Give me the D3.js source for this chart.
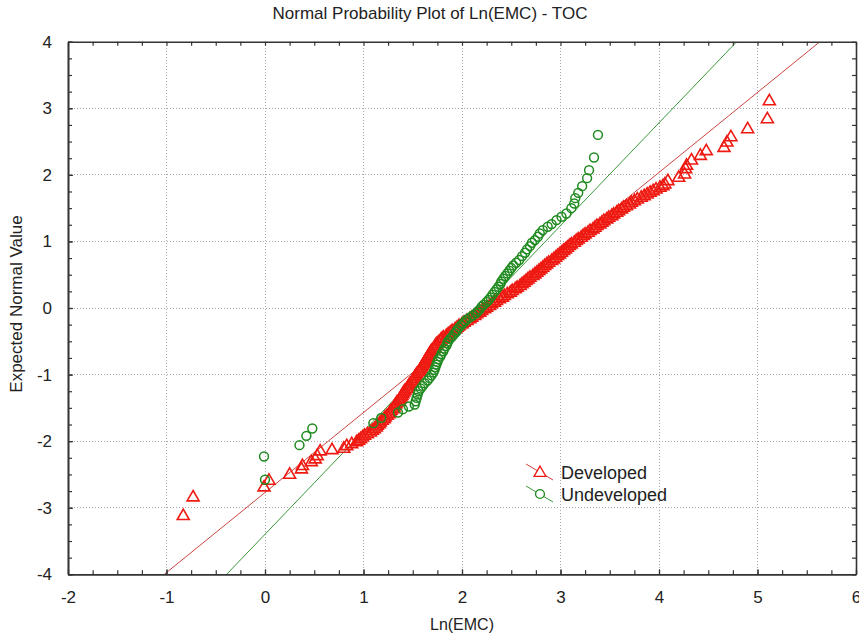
<!DOCTYPE html>
<html>
<head>
<meta charset="utf-8">
<script src="https://cdnjs.cloudflare.com/ajax/libs/d3/7.8.5/d3.min.js"></script>
<style>
  html, body { margin: 0; padding: 0; background: #fff; }
  svg { display: block; font-family: "Liberation Sans", Arial, sans-serif; }
</style>
</head>
<body>
<svg id="chart" width="859" height="639"></svg>
<script>
// Sorted Ln(EMC) values paired with their expected normal scores: [Ln(EMC), expected normal]
const developed = [
  [-0.83,-3.11],[-0.73,-2.83],[-0.01,-2.68],[0.04,-2.58],[0.25,-2.49],[0.37,-2.41],[0.38,-2.36],
  [0.47,-2.30],[0.51,-2.26],[0.53,-2.21],[0.56,-2.14],[0.68,-2.12],[0.80,-2.10],[0.83,-2.06],
  [0.88,-2.03],[0.93,-2.00],
  [0.95,-1.98],[0.97,-1.955],[0.99,-1.93],[1.01,-1.905],[1.04,-1.88],[1.07,-1.855],[1.09,-1.83],
  [1.11,-1.805],[1.13,-1.78],[1.14,-1.755],[1.16,-1.73],[1.17,-1.705],[1.19,-1.68],[1.21,-1.655],
  [1.22,-1.63],[1.24,-1.605],[1.26,-1.58],[1.27,-1.555],[1.28,-1.53],[1.30,-1.505],[1.31,-1.48],
  [1.32,-1.455],[1.33,-1.43],[1.34,-1.405],[1.36,-1.38],[1.37,-1.355],[1.38,-1.33],[1.39,-1.305],
  [1.40,-1.28],[1.41,-1.255],[1.42,-1.23],[1.44,-1.205],[1.45,-1.18],[1.46,-1.155],[1.47,-1.13],
  [1.49,-1.105],[1.50,-1.08],[1.51,-1.055],[1.52,-1.03],[1.53,-1.005],[1.54,-0.98],[1.56,-0.955],
  [1.57,-0.93],[1.58,-0.905],[1.59,-0.88],[1.60,-0.855],[1.61,-0.83],[1.62,-0.805],[1.63,-0.78],
  [1.64,-0.755],[1.65,-0.73],[1.66,-0.705],[1.67,-0.68],[1.68,-0.655],[1.69,-0.63],[1.71,-0.605],
  [1.72,-0.58],[1.73,-0.555],[1.74,-0.53],[1.76,-0.505],[1.78,-0.48],[1.79,-0.455],[1.81,-0.43],
  [1.84,-0.405],[1.86,-0.38],[1.88,-0.355],[1.90,-0.33],[1.93,-0.305],[1.95,-0.28],[1.97,-0.255],
  [2.00,-0.23],[2.02,-0.205],[2.05,-0.18],[2.08,-0.155],[2.10,-0.13],[2.13,-0.105],[2.15,-0.08],
  [2.18,-0.055],[2.20,-0.03],[2.23,-0.005],[2.25,0.02],[2.28,0.045],[2.30,0.07],[2.33,0.095],
  [2.35,0.12],[2.38,0.145],[2.41,0.17],[2.43,0.195],[2.46,0.22],[2.49,0.245],[2.51,0.27],
  [2.54,0.295],[2.56,0.32],[2.59,0.345],[2.61,0.37],[2.63,0.395],[2.65,0.42],[2.67,0.445],
  [2.69,0.47],[2.72,0.495],[2.74,0.52],[2.76,0.545],[2.78,0.57],[2.80,0.595],[2.82,0.62],
  [2.84,0.645],[2.86,0.67],[2.88,0.695],[2.91,0.72],[2.93,0.745],[2.95,0.77],[2.97,0.795],
  [2.99,0.82],[3.01,0.845],[3.03,0.87],[3.05,0.895],[3.07,0.92],[3.09,0.945],[3.11,0.97],
  [3.14,0.995],[3.16,1.02],[3.18,1.045],[3.21,1.07],[3.23,1.095],[3.25,1.12],[3.28,1.145],
  [3.30,1.17],[3.33,1.195],[3.35,1.22],[3.37,1.245],[3.40,1.27],[3.42,1.295],[3.44,1.32],
  [3.47,1.345],[3.49,1.37],[3.52,1.395],[3.54,1.42],[3.57,1.445],[3.59,1.47],[3.62,1.495],
  [3.64,1.52],[3.67,1.545],[3.70,1.57],[3.72,1.595],[3.75,1.62],[3.78,1.645],[3.82,1.67],
  [3.85,1.695],[3.88,1.72],[3.91,1.745],[3.94,1.77],[3.97,1.795],[4.01,1.82],[4.04,1.845],
  [4.06,1.87],[4.09,1.92],[4.20,1.97],[4.26,2.02],[4.27,2.10],[4.28,2.15],[4.33,2.23],
  [4.42,2.30],[4.48,2.37],[4.66,2.42],[4.69,2.50],[4.73,2.58],[4.90,2.70],[5.10,2.85],[5.12,3.12]
];

const undeveloped = [
  [0.00,-2.58],[-0.01,-2.23],[0.35,-2.06],[0.42,-1.92],[0.48,-1.81],[1.10,-1.73],[1.18,-1.65],
  [1.35,-1.57],[1.40,-1.52],[1.46,-1.48],[1.52,-1.45],[1.53,-1.40],[1.54,-1.35],[1.55,-1.30],
  [1.56,-1.25],[1.58,-1.21],[1.60,-1.17],[1.62,-1.13],[1.65,-1.09],[1.67,-1.05],[1.69,-1.01],
  [1.71,-0.97],[1.72,-0.93],[1.73,-0.89],[1.74,-0.85],[1.75,-0.81],[1.76,-0.77],[1.78,-0.73],
  [1.79,-0.69],[1.81,-0.65],[1.82,-0.61],[1.84,-0.57],[1.85,-0.53],[1.86,-0.50],[1.88,-0.46],
  [1.90,-0.43],[1.92,-0.39],[1.94,-0.36],[1.95,-0.33],[1.97,-0.29],[1.99,-0.26],[2.01,-0.23],
  [2.03,-0.20],[2.05,-0.17],[2.08,-0.14],[2.11,-0.11],[2.14,-0.08],[2.16,-0.05],[2.18,-0.02],
  [2.20,0.02],[2.22,0.05],[2.25,0.09],[2.27,0.12],[2.29,0.16],[2.31,0.20],[2.33,0.24],
  [2.35,0.28],[2.37,0.32],[2.39,0.36],[2.40,0.40],[2.42,0.44],[2.44,0.48],[2.46,0.52],
  [2.48,0.56],[2.50,0.60],[2.52,0.64],[2.55,0.68],[2.58,0.72],[2.61,0.78],[2.64,0.83],
  [2.66,0.88],[2.69,0.93],[2.71,0.98],[2.74,1.02],[2.77,1.07],[2.79,1.12],[2.82,1.17],
  [2.87,1.22],[2.91,1.26],[2.96,1.32],[3.01,1.37],[3.06,1.42],[3.11,1.50],[3.14,1.57],
  [3.15,1.65],[3.18,1.73],[3.22,1.83],[3.27,1.95],[3.29,2.07],[3.34,2.26],[3.38,2.60]
];

// Fitted normal reference lines: expected = slope * (Ln(EMC) - center)
const seriesNames = ["Developed", "Undeveloped"];
const fitCenter = [2.306, 2.20];
const fitSlope = [1.202, 1.545];

const xTicks = [-2, -1, 0, 1, 2, 3, 4, 5, 6];
const yTicks = [-4, -3, -2, -1, 0, 1, 2, 3, 4];
const titleText = "Normal Probability Plot of Ln(EMC) - TOC";
const xLabel = "Ln(EMC)";
const yLabel = "Expected Normal Value";

(function () {
  const svg = d3.select("#chart");
  const pL = 68, pR = 856, pT = 41.7, pB = 574.3;

  const x = d3.scaleLinear().domain([-2, 6]).range([pL, pR]);
  const y = d3.scaleLinear().domain([-4, 4]).range([pB, pT]);

  const markColor = ["#ee1a12", "#1f8a1f"];
  const lineColor = ["#cc4440", "#3a983a"];
  const plainNum = d => String(d); // hyphen-minus, as in the printed axes

  // Dotted grid at the major ticks
  const grid = svg.append("g");
  grid.selectAll("line.gx").data(xTicks.slice(1, -1)).join("line").attr("class", "gx")
    .attr("x1", d => x(d)).attr("x2", d => x(d)).attr("y1", pT).attr("y2", pB);
  grid.selectAll("line.gy").data(yTicks.slice(1, -1)).join("line").attr("class", "gy")
    .attr("y1", d => y(d)).attr("y2", d => y(d)).attr("x1", pL).attr("x2", pR);
  grid.selectAll("line").attr("stroke", "#a8a8a8").attr("stroke-width", 1)
    .attr("stroke-dasharray", "1,2").attr("shape-rendering", "crispEdges");

  // Clip for plot contents
  svg.append("clipPath").attr("id", "plotClip").append("rect")
    .attr("x", pL).attr("y", pT).attr("width", pR - pL).attr("height", pB - pT);
  const plot = svg.append("g").attr("clip-path", "url(#plotClip)");

  // Reference lines
  seriesNames.forEach((name, i) => {
    const yy = [-4, 4];
    plot.append("line")
      .attr("x1", x(fitCenter[i] + yy[0] / fitSlope[i])).attr("y1", y(yy[0]))
      .attr("x2", x(fitCenter[i] + yy[1] / fitSlope[i])).attr("y2", y(yy[1]))
      .attr("stroke", lineColor[i]).attr("stroke-width", 1);
  });

  const tri = d3.symbol().type(d3.symbolTriangle).size(62);
  const circ = d3.symbol().type(d3.symbolCircle).size(62);

  plot.append("g").selectAll("path").data(developed).join("path")
    .attr("d", tri)
    .attr("transform", d => `translate(${x(d[0])},${y(d[1]) + 1})`)
    .attr("fill", "none").attr("stroke", markColor[0]).attr("stroke-width", 1.6);

  plot.append("g").selectAll("path").data(undeveloped).join("path")
    .attr("d", circ)
    .attr("transform", d => `translate(${x(d[0])},${y(d[1])})`)
    .attr("fill", "none").attr("stroke", markColor[1]).attr("stroke-width", 1.5);

  // Axes on all four sides with inward ticks
  const axisColor = "#333";
  function styleAxis(g) {
    g.select(".domain").attr("stroke", axisColor).attr("stroke-width", 1.6);
    g.selectAll(".tick line").attr("stroke", axisColor).attr("stroke-width", 1.2);
    g.selectAll(".tick text").attr("fill", "#222").style("font-size", "17px")
      .style("font-family", "'Liberation Sans', Arial, sans-serif");
  }
  const minorX = d3.range(-2, 6.001, 0.25);
  const minorY = d3.range(-4, 4.001, 0.25);

  svg.append("g").attr("transform", `translate(0,${pB})`)
    .call(d3.axisBottom(x).tickValues(minorX).tickSize(-4).tickSizeOuter(0).tickFormat(""))
    .call(styleAxis);
  svg.append("g").attr("transform", `translate(0,${pB})`)
    .call(d3.axisBottom(x).tickValues(xTicks).tickSize(-5).tickSizeOuter(0).tickPadding(17).tickFormat(plainNum))
    .call(styleAxis);
  svg.append("g").attr("transform", `translate(0,${pT})`)
    .call(d3.axisTop(x).tickValues(minorX).tickSize(-4).tickSizeOuter(0).tickFormat(""))
    .call(styleAxis);
  svg.append("g").attr("transform", `translate(${pL},0)`)
    .call(d3.axisLeft(y).tickValues(minorY).tickSize(-4).tickSizeOuter(0).tickFormat(""))
    .call(styleAxis);
  svg.append("g").attr("transform", `translate(${pL},0)`)
    .call(d3.axisLeft(y).tickValues(yTicks).tickSize(-5).tickSizeOuter(0).tickPadding(16).tickFormat(plainNum))
    .call(styleAxis);
  svg.append("g").attr("transform", `translate(${pR},0)`)
    .call(d3.axisRight(y).tickValues(minorY).tickSize(-4).tickSizeOuter(0).tickFormat(""))
    .call(styleAxis);

  // Title and axis labels
  svg.append("text").attr("x", 430).attr("y", 19).attr("text-anchor", "middle")
    .attr("fill", "#222").style("font-size", "17px").text(titleText);
  svg.append("text").attr("x", x(2)).attr("y", 630).attr("text-anchor", "middle")
    .attr("fill", "#222").style("font-size", "16px").text(xLabel);
  svg.append("text").attr("transform", "translate(22,304) rotate(-90)")
    .attr("text-anchor", "middle").attr("fill", "#222").style("font-size", "17px").text(yLabel);

  // Legend
  const legend = svg.append("g").attr("transform", "translate(526,464)");
  seriesNames.forEach((name, i) => {
    const g = legend.append("g").attr("transform", `translate(0,${i * 22})`);
    g.append("line").attr("x1", 0).attr("y1", 0).attr("x2", 27).attr("y2", 16)
      .attr("stroke", lineColor[i]).attr("stroke-width", 1);
    g.append("path").attr("d", i === 0 ? tri : circ)
      .attr("transform", `translate(14,${i === 0 ? 9 : 8})`)
      .attr("fill", "#fff").attr("stroke", markColor[i]).attr("stroke-width", 1.3);
    g.append("text").attr("x", 35).attr("y", 15).attr("fill", "#222")
      .style("font-size", "18px").text(name);
  });
})();
</script>
</body>
</html>
